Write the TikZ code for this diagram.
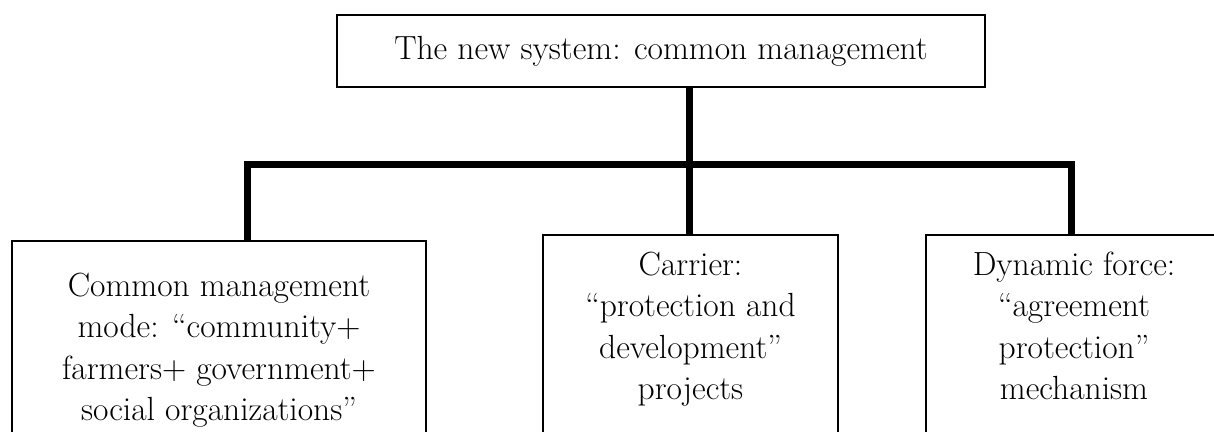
\documentclass[tikz,border=0pt]{standalone}
\usetikzlibrary{positioning}
\tikzset{
  box/.style={draw, line width=1.5pt, inner xsep=0pt, align=center, font=\fontsize{33.5}{41.5}\selectfont},
  branch box/.style={box, anchor=north, text depth=200pt},
  link/.style={line width=7pt, line join=miter}
}
\begin{document}
\begin{tikzpicture}[x=1pt,y=-1pt]
  \useasboundingbox (0,0) rectangle (1214,431);
  \clip (0,0) rectangle (1214,431);
  \node[box, minimum width=648pt, minimum height=72pt] (system) at (661,51) {The new system: common management};
  \node[branch box, minimum width=414pt, inner ysep=32pt] (mode) at (219,240) {Common management\\ mode: ``community+\\ farmers+ government+\\ social organizations''};
  \node[branch box, minimum width=295pt, inner ysep=17pt] (carrier) at (690.5,234) {Carrier:\\ ``protection and\\ development''\\ projects};
  \node[branch box, minimum width=296pt, inner ysep=17pt] (force) at (1074,234) {Dynamic force:\\ ``agreement\\ protection''\\ mechanism};
  % connectors
  \coordinate (hub) at (689,164);
  \coordinate (bar-l) at (247,164);
  \coordinate (bar-r) at (1071,164);
  \draw[link] (system.south -| hub) -- (carrier.north -| hub);
  \draw[link] (mode.north -| bar-l) -- (bar-l) -- (bar-r) -- (force.north -| bar-r);
\end{tikzpicture}
\end{document}
